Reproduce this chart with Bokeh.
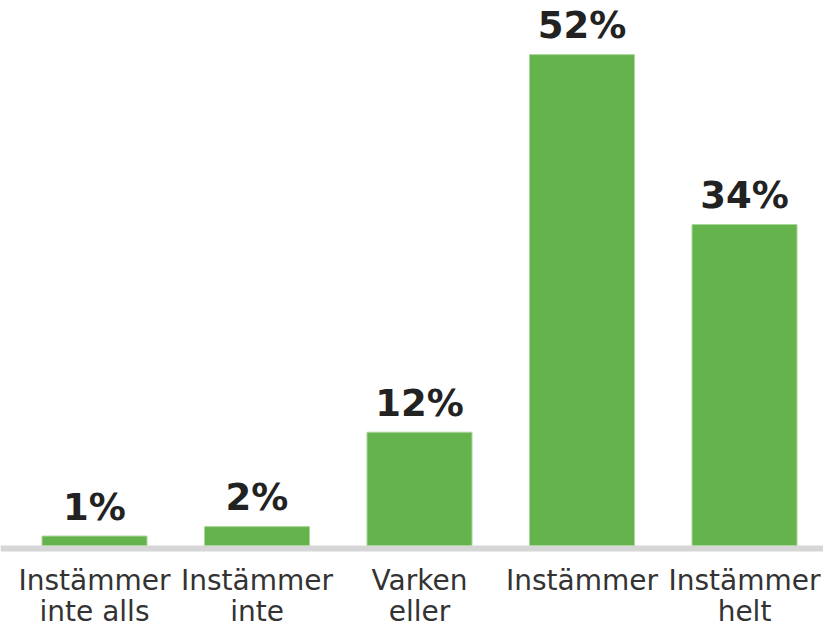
from bokeh.plotting import figure
from bokeh.models import ColumnDataSource, Span
from bokeh.core.properties import value
from bokeh.embed import file_html
from bokeh.resources import INLINE

# Data
categories = ["Instämmer inte alls", "Instämmer inte", "Varken eller", "Instämmer", "Instämmer helt"]
label_line1 = ["Instämmer", "Instämmer", "Varken", "Instämmer", "Instämmer"]
label_line2 = ["inte alls", "inte", "eller", "", "helt"]
percent = [1, 2, 12, 52, 34]
percent_labels = [f"{v}%" for v in percent]

xs = list(range(len(categories)))

W, H = 823, 628
px_per_unit_x = 162.5
px_per_pct = 9.44
x0_px = 94      # px of first bar centre
y0_px = 545     # px (from top) of baseline

p = figure(
    width=W, height=H,
    x_range=(-x0_px / px_per_unit_x, (W - x0_px) / px_per_unit_x),
    y_range=(-(H - y0_px) / px_per_pct, y0_px / px_per_pct),
    output_backend="svg", toolbar_location=None,
    min_border=0, outline_line_color=None,
    background_fill_color="white", border_fill_color="white",
)
p.axis.visible = False
p.grid.visible = False

src = ColumnDataSource(dict(x=xs, top=percent, lab=percent_labels,
                            l1=label_line1, l2=label_line2))

# baseline
p.add_layout(Span(location=-3 / px_per_pct, dimension="width",
                  line_color="#d6d6d6", line_width=6, level="underlay"))

p.vbar(x="x", top="top", bottom=0, width=105 / px_per_unit_x, source=src,
       fill_color="#64b34c", line_color="#a9d69b", line_width=1)

p.text(x="x", y="top", text="lab", source=src, y_offset=-29,
       text_align="center", text_baseline="alphabetic",
       text_font=value("DejaVu Sans"), text_font_style="bold",
       text_font_size="37px", text_color="#222222")

p.text(x="x", y=0, text="l1", source=src, y_offset=35,
       text_align="center", text_baseline="alphabetic",
       text_font=value("DejaVu Sans"), text_font_size="28px",
       text_color="#333333")
p.text(x="x", y=0, text="l2", source=src, y_offset=66,
       text_align="center", text_baseline="alphabetic",
       text_font=value("DejaVu Sans"), text_font_size="28px",
       text_color="#333333")

open("out.html", "w").write(file_html(p, INLINE))
